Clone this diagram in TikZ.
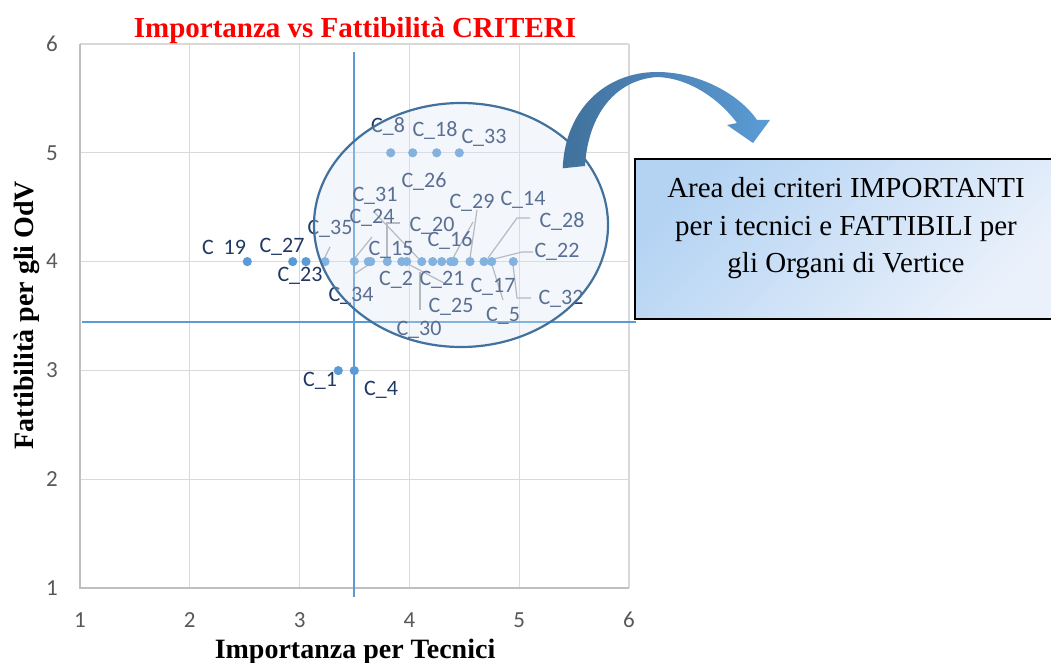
\documentclass[tikz,border=0pt]{standalone}
\usepackage{fontspec}
\setmainfont{Liberation Serif}
\newfontfamily\carl{Carlito}
\definecolor{gridc}{HTML}{D9D9D9}
\definecolor{axisc}{HTML}{BFBFBF}
\definecolor{ser}{HTML}{5B9BD5}
\definecolor{navy}{HTML}{1F3864}
\definecolor{tickc}{HTML}{595959}
\definecolor{ellc}{HTML}{41719C}
\definecolor{ellfill}{HTML}{DAE4F5}
\definecolor{leadc}{HTML}{A6A6A6}
\definecolor{refc}{HTML}{5B9BD5}
\definecolor{arrdark}{HTML}{41719C}
\definecolor{arrlight}{HTML}{5B9BD5}
\definecolor{boxtop}{HTML}{B4D3F3}
\definecolor{boxbot}{HTML}{EAF1FB}
\begin{document}
\begin{tikzpicture}[x=1pt,y=-1pt,
  lab/.style={font=\carl\fontsize{22}{24}\selectfont, text=navy, inner sep=0pt},
  ticklab/.style={font=\carl\fontsize{23}{25}\selectfont, text=tickc, inner sep=0pt},
  gridline/.style={draw=gridc, line width=1.3pt},
  axisline/.style={draw=axisc, line width=1.3pt},
  refline/.style={draw=refc, line width=1.1pt},
  leader/.style={draw=leadc, line width=1.2pt},
  boxtext/.style={font=\fontsize{29}{37}\selectfont, text=black, inner sep=0pt, anchor=base},
  axtitle/.style={font=\bfseries\fontsize{28}{30}\selectfont, text=black, inner sep=0pt, anchor=base}
]
\useasboundingbox (0,0) rectangle (1051,663);
\fill[white] (0,0) rectangle (1051,663);
% grid
\foreach \i in {0,...,5} {
  \draw[gridline] ({80+109.8*\i},44) -- ({80+109.8*\i},588);
  \draw[gridline] (80,{44+108.8*\i}) -- (629,{44+108.8*\i});
}
\draw[axisline] (80,44) -- (80,588) -- (629,588);
% tick labels
\foreach \i in {0,...,5} {
  \pgfmathtruncatemacro{\yv}{6-\i}
  \pgfmathtruncatemacro{\xv}{1+\i}
  \node[ticklab] (yt\yv) at (52,{44+108.8*\i}) {\yv};
  \node[ticklab] (xt\xv) at ({80+109.8*\i},620) {\xv};
}
% reference lines
\draw[refline] (354,52) -- (354,597);
\draw[refline] (82,322) -- (636,322);
% leader lines
\draw[leader] (330,247) -- (325,257);
\draw[leader] (355,258) -- (372,237);
\draw[leader] (400,223) -- (387,223) -- (387,258);
\draw[leader] (375,213) -- (418,258);
\draw[leader] (477,210) -- (470,258);
\draw[leader] (473,222) -- (453,258);
\draw[leader] (530,218) -- (517,218) -- (488,258);
\draw[leader] (533,252) -- (522,252) -- (494,259);
\draw[leader] (353,275) -- (368,265);
\draw[leader] (410,265) -- (444,283);
\draw[leader] (420,272) -- (420,310);
\draw[leader] (492,265) -- (503,300);
\draw[leader] (513,265) -- (517,298) -- (531,298);
% points
\foreach \px in {390.7,412.7,436.7,459.3} \fill[ser] (\px,152.8) circle (4.6);
\foreach \px in {247.3,292.7,306,325,354.3,368.3,370.7,387.3,401.7,406.7,421.7,432.7,441.7,450.7,454,470,484,491.7,513.3}
  \fill[ser] (\px,261.6) circle (4.6);
\foreach \px in {338.3,354.3} \fill[ser] (\px,370.6) circle (4.6);
% labels
\node[lab] (c19) at (224,247) {C\ \ 19};
\node[lab] (c27) at (282,247) {C\_27};
\node[lab] (c23) at (300,276) {C\_23};
\node[lab] (c1) at (320,381) {C\_1};
\node[lab] (c4) at (381,390) {C\_4};
\node[lab] (c35) at (330,229) {C\_35};
\node[lab] (c34) at (351,296) {C\_34};
\node[lab] (c30) at (419,330) {C\_30};
\node[lab] (c8) at (388,126) {C\_8};
\node[lab] (c18) at (435,130) {C\_18};
\node[lab] (c33) at (484,138) {C\_33};
\node[lab] (c26) at (424,182) {C\_26};
\node[lab] (c31) at (375,196) {C\_31};
\node[lab] (c29) at (472,203) {C\_29};
\node[lab] (c14) at (523,200) {C\_14};
\node[lab] (c24) at (372,218) {C\_24};
\node[lab] (c20) at (432,226) {C\_20};
\node[lab] (c28) at (562,221) {C\_28};
\node[lab] (c15) at (391,250) {C\_15};
\node[lab] (c16) at (450,241) {C\_16};
\node[lab] (c22) at (557,252) {C\_22};
\node[lab] (c2) at (396,280) {C\_2};
\node[lab] (c21) at (442,280) {C\_21};
\node[lab] (c17) at (493,287) {C\_17};
\node[lab] (c32) at (561,299) {C\_32};
\node[lab] (c25) at (451,307) {C\_25};
\node[lab] (c5) at (503,316) {C\_5};
% ellipse overlay
\fill[ellfill, fill opacity=0.32] (461,225) ellipse [x radius=147, y radius=122];
\draw[ellc, line width=2.2pt] (461,225) ellipse [x radius=147, y radius=122];
% curved arrow
\shade[left color=arrdark, right color=arrlight]
  (562.7,168.3) .. controls (565,110) and (605,72) .. (657,72)
  .. controls (700,72) and (740,95) .. (757,120)
  -- (770,120) -- (753,143) -- (727,125) -- (737,123)
  .. controls (720,100) and (690,78) .. (657,77)
  .. controls (615,80) and (588,115) .. (585,166) -- cycle;
% box
\node (box) [draw=black, line width=1.8pt, shade, shading=axis, top color=boxtop, bottom color=boxbot, shading angle=45,
  minimum width=418pt, minimum height=160pt, inner sep=0pt, outer sep=0pt] at (844,239) {};
\node[boxtext] (bt1) at (846,197) {Area dei criteri IMPORTANTI};
\node[boxtext] (bt2) at (846,235) {per i tecnici e FATTIBILI per};
\node[boxtext] (bt3) at (846,272) {gli Organi di Vertice};
% titles
\node[font=\bfseries\fontsize{29}{32}\selectfont, text=red, inner sep=0pt, anchor=base] (title) at (355,38) {Importanza vs Fattibilità CRITERI};
\node[axtitle] (xtitle) at (355,658) {Importanza per Tecnici};
\node[axtitle, rotate=90] (ytitle) at (33,315) {Fattibilità per gli OdV};
\end{tikzpicture}
\end{document}
